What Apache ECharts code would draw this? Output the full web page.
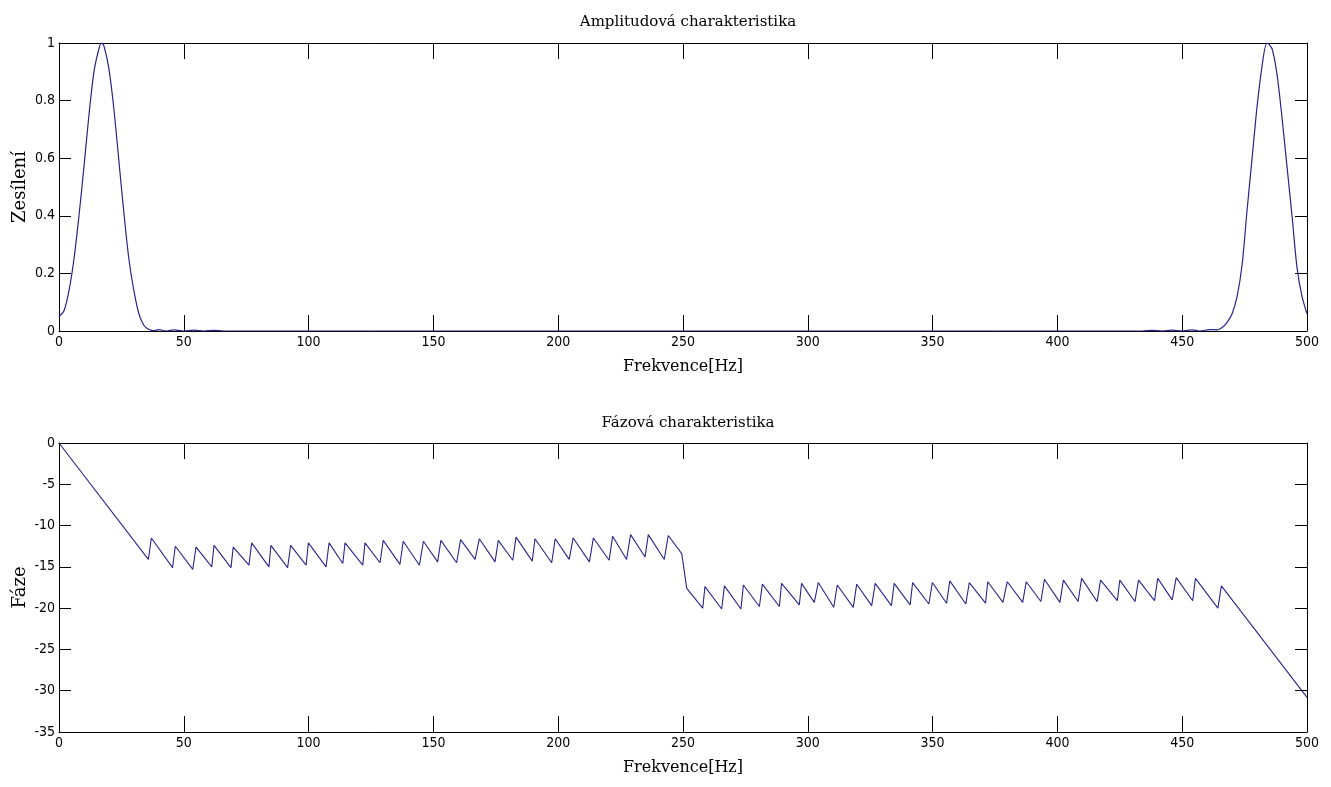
<!DOCTYPE html>
<html>
<head>
<meta charset="utf-8">
<title>Amplitudová a fázová charakteristika</title>
<script src="https://cdn.jsdelivr.net/npm/echarts@6/dist/echarts.min.js"></script>
<style>
  html, body { margin: 0; padding: 0; background: #fff; }
  #chart { width: 1331px; height: 787px; }
</style>
</head>
<body>
<div id="chart"></div>
<script>
// amplitudova charakteristika
const ampFreq = [0, 2, 4, 6, 8, 10, 12, 14, 16, 17, 18, 20, 22, 24, 26, 28, 30, 32, 34, 36, 38,
  40, 43, 46, 50, 54, 58, 62, 66, 434, 438, 442, 446, 450, 454, 457, 461, 464,
  466, 468, 470, 472, 474, 476, 478, 480, 482, 484, 486, 488, 490, 492, 494, 496, 498, 500]
const ampGain = [0.05, 0.07, 0.14, 0.25, 0.40, 0.57, 0.75, 0.90, 0.98, 1.0, 0.99, 0.91, 0.77, 0.59, 0.41, 0.25, 0.14, 0.06, 0.02, 0.005, 0.001,
  0.005, 0.0, 0.004, 0.0, 0.003, 0.0, 0.002, 0.0, 0.0, 0.002, 0.0, 0.003, 0.0, 0.004, 0.0, 0.005, 0.004,
  0.012, 0.03, 0.06, 0.12, 0.23, 0.42, 0.60, 0.78, 0.92, 1.0, 0.98, 0.89, 0.74, 0.57, 0.40, 0.22, 0.12, 0.06]

// fazova charakteristika
const phaseFreq = [0, 35.8, 37.0, 45.5, 46.6, 53.6, 54.9, 61.2, 62.1, 68.9, 69.8, 76.1, 77.2, 84.1, 84.9,
  91.6, 92.8, 99.0, 99.9, 107.0, 108.2, 113.7, 114.6, 121.7, 122.6, 128.6, 129.9, 136.6, 137.9,
  144.4, 146.0, 151.7, 153.0, 159.3, 160.9, 166.7, 168.4, 174.7, 176.0, 181.8, 183.1, 189.6, 190.7,
  197.4, 198.8, 204.4, 206.0, 212.5, 214.1, 220.4, 221.8, 227.4, 229.0, 234.8, 236.1, 242.5, 244.1,
  249.5, 251.5, 257.9, 258.8, 265.5, 266.6, 273.2, 274.2, 280.6, 281.8, 288.6, 289.5, 296.6, 297.5,
  302.6, 304.2, 310.4, 311.8, 318.2, 319.6, 325.6, 327.0, 333.5, 334.6, 341.0, 342.0, 348.5, 349.9,
  355.6, 356.9, 363.3, 364.7, 371.2, 372.1, 378.2, 379.9, 386.1, 387.5, 393.4, 394.8, 401.0, 402.4,
  408.3, 409.7, 415.9, 417.3, 424.0, 425.0, 431.1, 432.5, 438.9, 440.2, 446.0, 447.6, 454.2, 455.3,
  464.3, 465.7, 500]
const phaseValue = [0, -14.1, -11.5, -15.1, -12.5, -15.3, -12.6, -15.0, -12.4, -15.1, -12.6, -14.8, -12.1, -15.0, -12.4,
  -15.1, -12.4, -14.8, -12.1, -15.0, -12.1, -14.6, -12.1, -14.8, -12.1, -14.5, -11.8, -14.7, -11.9,
  -14.8, -11.9, -14.4, -11.8, -14.5, -11.7, -14.1, -11.6, -14.4, -11.8, -14.2, -11.4, -14.3, -11.6,
  -14.5, -11.6, -14.1, -11.5, -14.4, -11.5, -14.2, -11.3, -14.1, -11.1, -13.8, -11.1, -14.1, -11.2,
  -13.4, -17.6, -20.0, -17.4, -20.1, -17.3, -20.1, -17.2, -19.8, -17.1, -19.8, -17.0, -19.6, -17.0,
  -19.3, -16.9, -19.9, -17.2, -19.9, -17.1, -19.7, -17.0, -19.7, -17.0, -19.6, -16.9, -19.5, -16.9,
  -19.4, -16.7, -19.5, -16.9, -19.4, -16.8, -19.3, -16.8, -19.3, -16.8, -19.2, -16.5, -19.3, -16.6,
  -19.2, -16.4, -19.2, -16.6, -19.1, -16.6, -19.2, -16.6, -19.1, -16.4, -19.0, -16.3, -19.1, -16.4,
  -20.0, -17.3, -30.8]

const freqTicks = [0, 50, 100, 150, 200, 250, 300, 350, 400, 450, 500]

const serif = "'DejaVu Serif', 'Liberation Serif', serif"
const narrow = "'Liberation Sans Narrow', 'DejaVu Sans Condensed', 'Liberation Sans', sans-serif"
const lineColor = '#26268c'

const chart = echarts.init(document.getElementById('chart'), null, { renderer: 'canvas' })

function xAxisFor(gridIndex, bottom) {
  return {
    type: 'value',
    gridIndex,
    position: bottom ? 'bottom' : 'top',
    min: freqTicks[0],
    max: freqTicks[freqTicks.length - 1],
    interval: 50,
    name: bottom ? 'Frekvence[Hz]' : '',
    nameLocation: 'middle',
    nameGap: 28,
    nameTextStyle: { fontFamily: serif, fontSize: 16, color: '#000' },
    axisLine: { show: true, onZero: false, lineStyle: { color: '#000', width: 1 } },
    axisTick: { show: true, inside: true, length: 16, lineStyle: { color: '#000' } },
    axisLabel: { show: bottom, margin: 4, fontFamily: narrow, fontSize: 14, color: '#000' },
    splitLine: { show: false }
  }
}

function yAxisFor(gridIndex, left, min, max, interval, name) {
  return {
    type: 'value',
    gridIndex,
    position: left ? 'left' : 'right',
    min, max, interval,
    name: left ? name : '',
    nameLocation: 'middle',
    nameRotate: 90,
    nameGap: 30,
    nameMoveOverlap: false,
    nameTextStyle: { fontFamily: serif, fontSize: 18, color: '#000' },
    axisLine: { show: true, onZero: false, lineStyle: { color: '#000', width: 1 } },
    axisTick: { show: true, inside: true, length: 12, lineStyle: { color: '#000' } },
    axisLabel: { show: left, margin: 4, fontFamily: narrow, fontSize: 14, color: '#000' },
    splitLine: { show: false }
  }
}

const option = {
  backgroundColor: '#fff',
  animation: false,
  title: [
    { text: 'Amplitudová charakteristika', left: 683, top: 10, textAlign: 'center',
      textStyle: { fontFamily: serif, fontSize: 15, fontWeight: 'normal', color: '#000' } },
    { text: 'Fázová charakteristika', left: 683, top: 411, textAlign: 'center',
      textStyle: { fontFamily: serif, fontSize: 15, fontWeight: 'normal', color: '#000' } }
  ],
  grid: [
    { left: 59, top: 43, width: 1248, height: 288, outerBoundsMode: 'none' },
    { left: 59, top: 443, width: 1248, height: 289, outerBoundsMode: 'none' }
  ],
  xAxis: [xAxisFor(0, true), xAxisFor(0, false), xAxisFor(1, true), xAxisFor(1, false)],
  yAxis: [
    yAxisFor(0, true, 0, 1, 0.2, 'Zesílení'),
    yAxisFor(0, false, 0, 1, 0.2, ''),
    yAxisFor(1, true, -35, 0, 5, 'Fáze'),
    yAxisFor(1, false, -35, 0, 5, '')
  ],
  series: [
    {
      type: 'line',
      xAxisIndex: 0,
      yAxisIndex: 0,
      data: ampFreq.map((f, i) => [f, ampGain[i]]),
      showSymbol: false,
      smooth: 0.3,
      lineStyle: { color: lineColor, width: 1.2 }
    },
    {
      type: 'line',
      xAxisIndex: 2,
      yAxisIndex: 2,
      data: phaseFreq.map((f, i) => [f, phaseValue[i]]),
      showSymbol: false,
      lineStyle: { color: lineColor, width: 1.1 }
    }
  ]
}

chart.setOption(option)
</script>
</body>
</html>
